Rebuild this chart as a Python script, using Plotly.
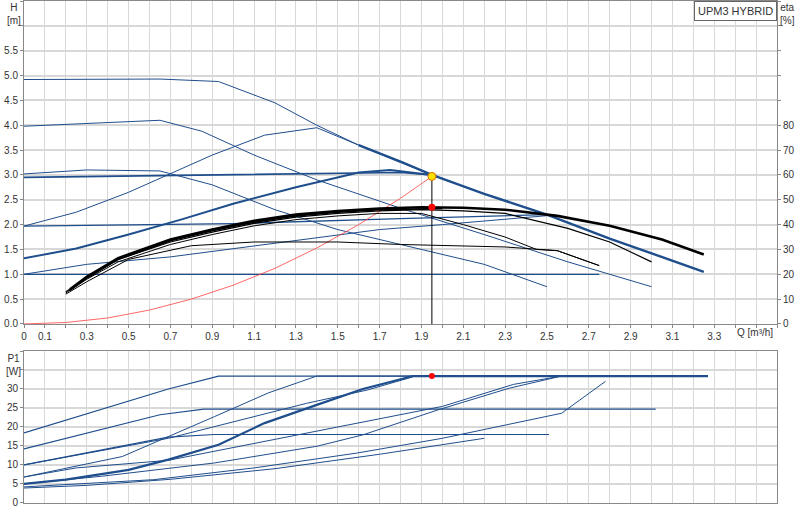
import numpy as np
import plotly.graph_objects as go

# ---- H curves (Q [m3/h], H [m]) ----
h_max_q = [0, 0.65, 0.93, 1.2, 1.4, 1.6, 1.8, 1.95]
h_max_h = [4.92, 4.93, 4.88, 4.45, 4.0, 3.6, 3.25, 3.0]
h_max_end_q = [1.6, 1.8, 1.95, 2.2, 2.5, 2.8, 3.25]
h_max_end_h = [3.6, 3.27, 3.0, 2.62, 2.2, 1.72, 1.05]
h4_q = [0, 0.65, 0.85, 1.1, 1.4, 1.8, 2.2, 2.6, 3.0]
h4_h = [3.98, 4.1, 3.88, 3.4, 2.9, 2.33, 1.8, 1.25, 0.75]
h3_q = [0, 0.3, 0.65, 0.9, 1.2, 1.5, 1.8, 2.2, 2.5]
h3_h = [3.02, 3.1, 3.08, 2.8, 2.3, 1.9, 1.6, 1.2, 0.75]
cp3_q = [0, 1.8, 1.95]
cp3_h = [2.95, 3.05, 3.0]
cp2_q = [0, 1.0, 1.8, 2.5]
cp2_h = [1.97, 2.02, 2.12, 2.2]
cp1_q = [0, 2.75]
cp1_h = [1.0, 1.0]
pp3_q = [0, 0.25, 0.5, 0.9, 1.15, 1.4, 1.6]
pp3_h = [1.97, 2.25, 2.65, 3.4, 3.8, 3.95, 3.6]
pp2_q = [0, 0.25, 0.5, 0.75, 1.0, 1.3, 1.6, 1.75, 1.95]
pp2_h = [1.32, 1.52, 1.8, 2.1, 2.42, 2.75, 3.05, 3.1, 3.0]
pp1_q = [0, 0.3, 0.7, 1.2, 1.7, 2.0, 2.5]
pp1_h = [1.0, 1.2, 1.35, 1.62, 1.9, 2.0, 2.18]

# system curve
sys_q = [0, 0.2, 0.4, 0.6, 0.8, 1.0, 1.2, 1.4, 1.6, 1.8, 1.95]
sys_h = [0, 0.03, 0.12, 0.28, 0.5, 0.78, 1.12, 1.53, 2.0, 2.53, 2.97]

# ---- efficiency curves (Q, eta %) ----
eta1_q = [0.22, 0.3, 0.45, 0.7, 0.9, 1.1, 1.3, 1.5, 1.7, 1.9, 2.1, 2.3, 2.55, 2.8, 3.05, 3.25]
eta1_v = [14, 19, 26.5, 34, 38, 41.5, 44, 45.5, 46.5, 47, 46.8, 46, 43.5, 39.5, 34, 28]
eta2_q = [0.2, 0.3, 0.45, 0.7, 0.9, 1.1, 1.3, 1.5, 1.7, 1.9, 2.1, 2.3, 2.6, 2.8, 3.0]
eta2_v = [13, 18.5, 26, 33, 37, 40.5, 43, 44.5, 45.5, 46, 45.5, 44.5, 38.5, 33, 25]
eta3_q = [0.2, 0.3, 0.45, 0.7, 0.9, 1.1, 1.3, 1.5, 1.7, 1.9, 2.1, 2.3, 2.45, 2.55, 2.75]
eta3_v = [12.5, 18, 25, 32, 36, 39.5, 42, 43.5, 44.5, 44.5, 40, 35, 30, 29.5, 23.5]
eta4_q = [0.2, 0.3, 0.5, 0.8, 1.1, 1.5, 1.8, 2.3, 2.55, 2.75]
eta4_v = [12, 17, 26, 31.5, 33, 33, 32, 31, 29.5, 23.5]
eta5_q = [0.22, 0.3, 0.45, 0.7, 0.9, 1.1, 1.3, 1.5, 1.7, 1.9, 2.0]
eta5_v = [13.5, 18.5, 26, 33.5, 37.5, 41, 43.5, 45, 46, 46.5, 46.5]

# ---- P1 curves (Q, W) ----
p_curves = [
    ([0, 0.69, 0.93, 3.27], [18.4, 30, 33.4, 33.4], 1.2),
    ([0, 0.65, 0.86, 3.02], [14.2, 23.2, 24.7, 24.7], 1.2),
    ([0, 0.69, 0.91, 2.51], [10, 17.3, 18, 18], 1.2),
    ([0, 0.47, 0.91, 1.17, 1.4, 3.27], [6.8, 12.2, 22.7, 29, 33.4, 33.4], 1.0),
    ([0, 0.69, 1.35, 1.64, 1.86], [10, 17, 26.2, 29.7, 33.2], 1.0),
    ([0, 0.2, 0.5, 0.69, 0.93, 1.15, 1.4, 1.62, 1.86, 3.27],
     [5, 6.1, 8.7, 11.4, 15.3, 21, 25.8, 30, 33.4, 33.4], 2.2),
    ([0, 0.25, 0.69, 1.35, 2.0, 2.34, 2.57], [6.8, 9.2, 11.2, 18.4, 25.4, 31.2, 33.4], 1.0),
    ([0, 0.37, 0.91, 1.4, 1.62, 1.98, 2.32, 2.57], [5, 7, 10.5, 14.9, 17.9, 24.5, 30.2, 33.4], 1.0),
    ([0, 0.62, 1.1, 1.59, 2.0, 2.57, 2.78], [4.2, 6.1, 9.2, 13.1, 17, 23.6, 32], 1.0),
    ([0, 0.3, 0.7, 1.2, 1.7, 2.2], [3.9, 4.6, 6.2, 9.0, 12.8, 17.0], 1.0),
]

duty_q = 1.95
duty_h = 2.97
duty_eta = 47
duty_p = 33.4

blue = "#1f4e8c"
fig = go.Figure()

def line(x, y, color=blue, width=1.0, xa="x", ya="y"):
    fig.add_trace(go.Scatter(x=x, y=y, mode="lines", xaxis=xa, yaxis=ya,
                             line=dict(color=color, width=width), hoverinfo="skip"))

line(h_max_q, h_max_h)
line(h_max_end_q, h_max_end_h, width=2.4)
line(h4_q, h4_h)
line(h3_q, h3_h)
line(cp3_q, cp3_h, width=1.6)
line(cp2_q, cp2_h, width=1.3)
line(cp1_q, cp1_h, width=1.3)
line(pp3_q, pp3_h)
line(pp2_q, pp2_h, width=2.0)
line(pp1_q, pp1_h)
line(sys_q, sys_h, color="#ff4040", width=0.8)
line([duty_q, duty_q], [0, duty_h], color="black", width=1.0)

for q, v, w in [(eta1_q, eta1_v, 2.6), (eta2_q, eta2_v, 1.2), (eta3_q, eta3_v, 1.0),
                (eta4_q, eta4_v, 1.0), (eta5_q, eta5_v, 1.6)]:
    line(q, v, color="black", width=w, ya="y2")

for q, v, w in p_curves:
    line(q, v, width=w, xa="x2", ya="y3")

fig.add_trace(go.Scatter(x=[duty_q], y=[duty_h], mode="markers", hoverinfo="skip",
                         marker=dict(color="#ffe000", size=8, line=dict(color="#e07000", width=1))))
fig.add_trace(go.Scatter(x=[duty_q], y=[duty_eta], yaxis="y2", mode="markers", hoverinfo="skip",
                         marker=dict(color="red", size=7)))
fig.add_trace(go.Scatter(x=[duty_q], y=[duty_p], xaxis="x2", yaxis="y3", mode="markers",
                         hoverinfo="skip", marker=dict(color="red", size=6)))

xt = [round(v, 1) for v in np.arange(0, 3.61, 0.1)]
xtext = ["0" if v == 0 else (f"{v:.1f}" if round(v * 10) % 2 == 1 and v <= 3.3 else "") for v in xt]
ht = [round(v, 1) for v in np.arange(0, 6.51, 0.5)]
htext = [f"{v:.1f}" if v <= 5.5 else "" for v in ht]
et = list(range(0, 131, 10))
etext = [str(v) if v <= 80 else "" for v in et]
pt = list(range(0, 41, 5))
ptext = [str(v) if v <= 30 else "" for v in pt]

grid = "#d8d8d8"
ax_common = dict(showgrid=True, gridcolor=grid, zeroline=False, showline=True, automargin=False,
                 linecolor="#888", mirror=True, ticks="outside", ticklen=3, tickcolor="#888")
fig.update_layout(
    width=800, height=520, showlegend=False, plot_bgcolor="white", paper_bgcolor="white",
    margin=dict(l=24, r=23, t=0, b=0),
    font=dict(family="Liberation Sans, Arial", size=10, color="#333"),
    xaxis=dict(ax_common, domain=[0, 1], range=[0, 3.6], tickvals=xt, ticktext=xtext,
               anchor="y", gridwidth=1),
    yaxis=dict(ax_common, domain=[0.377, 0.998], range=[0, 6.5], tickvals=ht, ticktext=htext,
               gridwidth=2),
    yaxis2=dict(overlaying="y", side="right", range=[0, 130], tickvals=et, ticktext=etext,
                showgrid=False, zeroline=False, ticks="outside", ticklen=3, tickcolor="#888",
                showline=True, linecolor="#888", automargin=False),
    xaxis2=dict(ax_common, domain=[0, 1], range=[0, 3.6], tickvals=xt, showticklabels=False,
                anchor="y3", ticks=""),
    yaxis3=dict(ax_common, domain=[0.033, 0.325], range=[0, 40], tickvals=pt, ticktext=ptext,
                gridwidth=2),
)

fig.add_annotation(text="H<br>[m]", x=0, y=1, xref="paper", yref="paper", showarrow=False,
                   xanchor="right", yanchor="top", xshift=-1)
fig.add_annotation(text="eta<br>[%]", x=1, y=1, xref="paper", yref="paper", showarrow=False,
                   xanchor="left", yanchor="top", xshift=1)
fig.add_annotation(text="Q [m³/h]", x=1, y=0.377, xref="paper", yref="paper", showarrow=False,
                   xanchor="right", yanchor="middle", yshift=-9, xshift=-2)
fig.add_annotation(text="P1<br>[W]", x=0, y=0.325, xref="paper", yref="paper", showarrow=False,
                   xanchor="right", yanchor="top", xshift=-1)
fig.add_annotation(text="UPM3 HYBRID", x=1, y=0.998, xref="paper", yref="paper", showarrow=False,
                   xanchor="right", yanchor="top", bordercolor="#666", borderwidth=1,
                   bgcolor="white", borderpad=3, font=dict(size=11))

fig.write_html("out.html", config={"displayModeBar": False},
               post_script="document.body.style.margin='0';")
